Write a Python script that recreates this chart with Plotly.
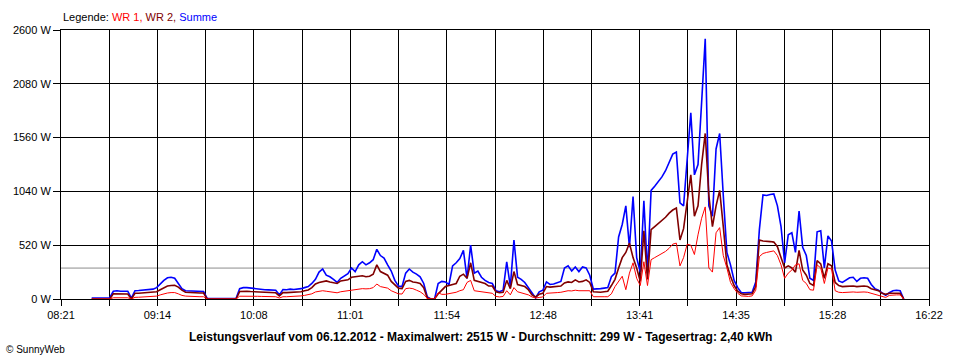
import plotly.graph_objects as go

# ---- data ----
tick_labels = ["08:21", "09:14", "10:08", "11:01", "11:54", "12:48", "13:41", "14:35", "15:28", "16:22"]
y_ticks = [0, 520, 1040, 1560, 2080, 2600]
average_w = 299

start_time = "08:38"   # first sample, then one sample every 2 minutes
step_min = 2

summe = [10, 10, 10, 10, 10, 12,
         75, 80, 75, 78, 75,
         8,
         80, 82, 85, 88, 92, 95,
         110, 150, 180, 205, 210, 200, 150, 100,
         80, 78, 80, 75, 75, 72,
         5, 5, 5, 5, 5, 5, 5, 5, 5,
         100,
         110, 110, 105, 100, 100, 92, 90, 88, 88, 85,
         40,
         92, 90, 95, 92, 95, 100, 110, 120, 150,
         190, 260, 290, 230, 215, 190, 160, 200, 225, 245,
         300, 265, 330, 360, 330, 350, 380, 480, 420, 395,
         330, 270, 180, 125, 120, 250, 290, 260, 240, 215,
         150, 20, 0, 0, 150, 170, 165,
         140, 320, 350, 390, 470, 200, 520, 250, 270, 210,
         180, 160, 150, 80, 70, 85, 360, 120, 570, 210,
         190, 160, 110, 50, 10, 70, 85, 165, 140, 145,
         160, 170, 300, 320, 270, 310, 265, 310, 300, 230,
         95, 95, 100, 105, 110,
         215, 250, 600, 720, 900, 500, 990, 400, 260, 950,
         250, 1050, 1090, 1130, 1180, 1240, 1320, 1400, 1420, 930,
         900, 1400, 1800, 1200, 1300, 1900, 2515, 900, 800, 1450,
         1600, 1000, 450, 330, 180, 110,
         60, 60, 62, 65, 165, 670, 1005, 1000, 1010, 1015,
         900, 700, 350, 620, 640, 450, 850, 500, 420, 200,
         180, 650, 660, 300, 610, 560, 280, 175, 160, 185,
         205, 210, 170, 200, 205, 200, 140, 100, 85, 60,
         35, 60, 80, 85, 80, 0]

wr2 = [0, 0, 0, 0, 0, 0,
       50, 50, 48, 50, 48,
       0,
       55, 55, 57, 58, 60, 62,
       70, 90, 110, 125, 130, 132, 115, 85,
       65, 62, 62, 60, 58, 58,
       0, 0, 0, 0, 0, 0, 0, 0, 0,
       72,
       75, 75, 72, 70, 68, 65, 63, 62, 62, 60,
       30,
       62, 62, 63, 62, 65, 70, 80, 87, 110,
       145, 160, 170, 175, 165, 160, 150, 175, 180, 185,
       210, 215, 220, 225, 215, 220, 240, 330, 265, 245,
       230, 170, 140, 105, 100, 170, 180, 165, 160, 150,
       110, 10, 0, 0, 50, 90, 120,
       130, 140, 150, 220, 240, 200, 350, 180, 170, 160,
       150, 125, 125, 70, 60, 65, 180, 100, 265, 140,
       130, 120, 90, 40, 20, 45, 55, 120, 115, 120,
       125, 125, 155, 165, 160, 185, 165, 170, 185, 160,
       70, 65, 65, 70, 75,
       130, 190, 300, 400, 450, 540, 400, 300, 170, 660,
       190, 670, 700, 730, 760, 790, 830, 860, 880, 570,
       680, 960, 1200, 800, 900, 1300, 1600, 1000, 700, 900,
       1050, 700, 330, 220, 130, 75,
       50, 45, 45, 50, 120, 570, 560, 560, 555, 550,
       505, 400, 300, 320, 300, 260, 470, 280, 230, 150,
       130, 370, 340, 200, 340, 320, 160, 130, 120, 122,
       125, 125, 120, 125, 125, 120, 100, 90, 80, 55,
       45, 55, 55, 55, 55, 0]

wr1 = [0, 0, 0, 0, 0, 0,
       12, 13, 12, 13, 12,
       0,
       16, 17, 18, 18, 20, 22,
       28, 40, 52, 58, 62, 62, 50, 35,
       28, 25, 25, 24, 22, 22,
       0, 0, 0, 0, 0, 0, 0, 0, 0,
       27,
       28, 28, 27, 27, 26, 25, 24, 23, 22, 22,
       10,
       22, 22, 23, 22, 24, 30, 35, 40, 50,
       68, 75, 80, 75, 70, 65, 60, 70, 75, 80,
       90, 95, 100, 100, 98, 100, 110, 145, 120, 112,
       105, 80, 65, 50, 48, 100, 105, 100, 85, 70,
       45, 5, 0, 0, 60, 45, 45,
       50, 55, 65, 80, 90, 160, 180, 80, 75, 70,
       65, 60, 55, 25, 20, 25, 80, 40, 110, 70,
       60, 55, 40, 20, 10, 15, 20, 55, 55, 60,
       62, 65, 75, 80, 78, 85, 80, 82, 85, 80,
       22, 20, 20, 22, 22,
       50, 120, 170, 220, 90, 250, 350, 200, 130, 360,
       130, 380, 400, 420, 440, 460, 490, 530, 540, 320,
       400, 530, 520, 430, 620, 780, 890, 300, 260, 640,
       690, 420, 300, 160, 100, 55,
       30, 25, 25, 30, 85, 410, 440, 450, 455, 465,
       420, 330, 200, 250, 280, 330, 340, 180, 150, 90,
       85, 330, 300, 150, 300, 290, 80, 65, 62, 65,
       68, 68, 65, 68, 68, 65, 55, 45, 40, 25,
       15, 35, 40, 40, 40, 0]

assert len(summe) == len(wr2) == len(wr1)


def to_min(s):
    h, m = s.split(":")
    return int(h) * 60 + int(m)


t0 = to_min(start_time)
times = [t0 + step_min * i for i in range(len(summe))]

# axis grid: labelled ticks with an unlabelled grid line between each pair
first, last = to_min(tick_labels[0]), to_min(tick_labels[-1])
n_grid = 2 * (len(tick_labels) - 1)
grid_vals = [first + (last - first) * i / n_grid for i in range(n_grid + 1)]
grid_text = [tick_labels[i // 2] if i % 2 == 0 else "" for i in range(n_grid + 1)]

FONT = "Liberation Sans, Arial, sans-serif"

fig = go.Figure()
fig.add_trace(go.Scatter(x=times, y=summe, mode="lines", name="Summe",
                         line=dict(color="#0000FF", width=1.6)))
fig.add_trace(go.Scatter(x=times, y=wr2, mode="lines", name="WR 2",
                         line=dict(color="#800000", width=1.6)))
fig.add_trace(go.Scatter(x=times, y=wr1, mode="lines", name="WR 1",
                         line=dict(color="#FF0000", width=1)))

fig.add_shape(type="line", xref="paper", x0=0, x1=1, yref="y", y0=average_w, y1=average_w,
              line=dict(color="#8c8c8c", width=1), layer="between")

fig.update_layout(
    width=960, height=360,
    margin=dict(l=61, r=31, t=30, b=61, pad=0),
    paper_bgcolor="white", plot_bgcolor="white",
    showlegend=False,
    font=dict(family=FONT, size=11, color="black"),
    xaxis=dict(range=[first, last], tickmode="array", tickvals=grid_vals, ticktext=grid_text,
               showgrid=True, gridcolor="black", gridwidth=1,
               ticks="outside", ticklen=6, tickcolor="black", tickwidth=1,
               showline=True, linecolor="black", linewidth=1, mirror=True,
               zeroline=False, tickfont=dict(family=FONT, size=11, color="black")),
    yaxis=dict(range=[0, y_ticks[-1]], tickmode="array", tickvals=y_ticks,
               ticktext=[f"{v} W" for v in y_ticks],
               showgrid=True, gridcolor="black", gridwidth=1,
               ticks="outside", ticklen=7, tickcolor="black", tickwidth=1,
               showline=True, linecolor="black", linewidth=1, mirror=True,
               zeroline=False, tickfont=dict(family=FONT, size=11, color="black")),
)

fig.add_annotation(xref="paper", yref="paper", x=0, y=(299 - 17) / 269, xanchor="left", yanchor="middle",
                   showarrow=False, font=dict(family=FONT, size=11, color="black"),
                   text="Legende: <span style='color:#FF0000'>WR 1,</span> "
                        "<span style='color:#800000'>WR 2,</span> "
                        "<span style='color:#0000FF'>Summe</span>")
fig.add_annotation(xref="paper", yref="paper", x=(480 - 61) / 868, y=(299 - 337) / 269,
                   xanchor="center", yanchor="middle", showarrow=False,
                   font=dict(family=FONT, size=12, color="black"),
                   text="<b>Leistungsverlauf vom 06.12.2012 - Maximalwert: 2515 W - "
                        "Durchschnitt: 299 W - Tagesertrag: 2,40 kWh</b>")
fig.add_annotation(xref="paper", yref="paper", x=(4 - 61) / 868, y=(299 - 349) / 269,
                   xanchor="left", yanchor="middle", showarrow=False,
                   font=dict(family=FONT, size=10, color="black"),
                   text="© SunnyWeb")

fig.write_html("out.html", config={"displayModeBar": False},
               post_script="document.body.style.margin='0';document.body.style.overflow='hidden';")
